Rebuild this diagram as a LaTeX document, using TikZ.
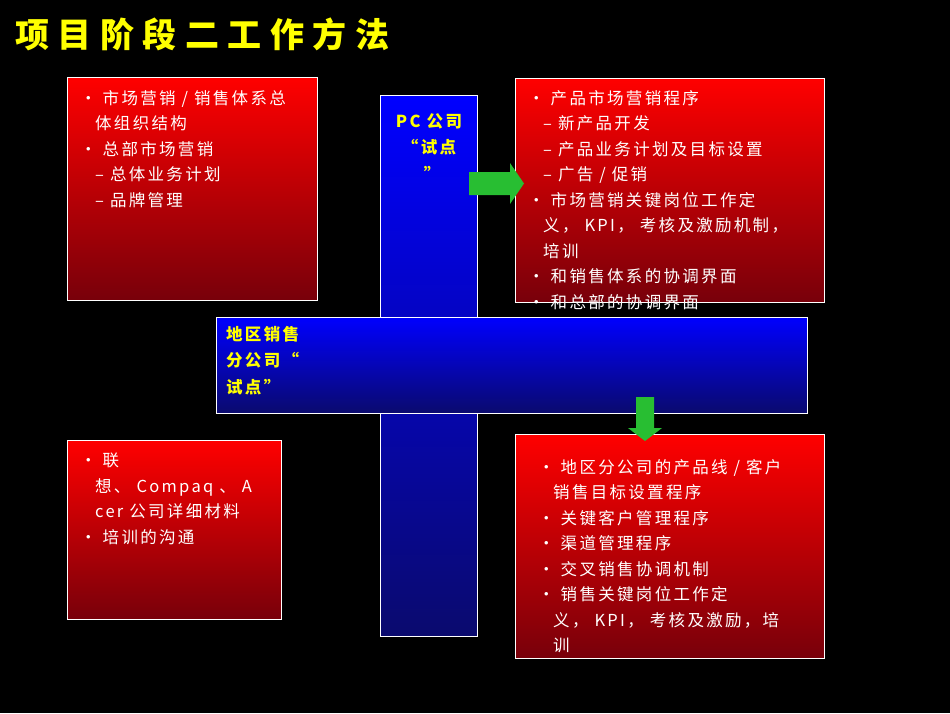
\documentclass[tikz,border=0pt]{standalone}
\usepackage{fontspec}
\setmainfont{Liberation Sans}
\newfontfamily\cjk{Noto Sans CJK SC}[LetterSpace=14]
\newfontfamily\cjkt{Noto Sans CJK SC}[LetterSpace=25]
\definecolor{dred}{RGB}{120,0,10}
\definecolor{dblue}{RGB}{10,10,110}
\definecolor{tyellow}{RGB}{255,255,0}
\definecolor{agreen}{RGB}{40,190,50}
\newcommand\ind{\hspace*{15pt}}
\tikzset{
 redbox/.style={draw=white,line width=0.8pt,top color=red,bottom color=dred},
 bluebar/.style={draw=white,line width=0.8pt,top color=blue,bottom color=dblue},
 txt/.style={text=white,font=\cjk\fontsize{16.5}{25.5}\selectfont,align=left,anchor=north west,inner sep=0pt},
 ytxt/.style={text=tyellow,font=\cjk\bfseries\fontsize{16.5}{26.5}\selectfont,align=left,anchor=north west,inner sep=0pt},
 garrow/.style={fill=agreen},
}
\begin{document}
\begin{tikzpicture}[x=1pt,y=-1pt]
\fill[black] (0,0) rectangle (950,713);
\useasboundingbox (0,0) rectangle (950,713);
\node[anchor=west,text=tyellow,font=\cjkt\bfseries\fontsize{34}{36}\selectfont,inner sep=0pt] (title) at (15,34) {项目阶段二工作方法};
\fill[redbox] (67,77) rectangle (317,300) coordinate (b1);
\fill[redbox] (515,78) rectangle (824,302) coordinate (b2);
\fill[redbox] (67,440) rectangle (281,619) coordinate (b3);
\fill[redbox] (515,434) rectangle (824,658) coordinate (b4);
\fill[bluebar] (380,95) rectangle (477,636);
\node[ytxt,align=center,anchor=north] (pc) at (429,113) {PC 公司\\“试点\\\ ”};
\node[txt] (t1) at (80,90) {• 市场营销 / 销售体系总\\\ind 体组织结构\\• 总部市场营销\\\ind – 总体业务计划\\\ind – 品牌管理};
\node[txt] (t2) at (528,90) {• 产品市场营销程序\\\ind – 新产品开发\\\ind – 产品业务计划及目标设置\\\ind – 广告 / 促销\\• 市场营销关键岗位工作定\\\ind 义， KPI， 考核及激励机制，\\\ind 培训\\• 和销售体系的协调界面\\• 和总部的协调界面};
\fill[bluebar] (216,317) rectangle (807,413);
\node[ytxt] (dq) at (226,326) {地区销售\\分公司“\\试点”};
\node[txt] (t3) at (80,453) {• 联\\\ind 想、 Compaq 、 A\\\ind cer 公司详细材料\\• 培训的沟通};
\node[txt] (t4) at (538,459) {• 地区分公司的产品线 / 客户\\\ind 销售目标设置程序\\• 关键客户管理程序\\• 渠道管理程序\\• 交叉销售协调机制\\• 销售关键岗位工作定\\\ind 义， KPI， 考核及激励，培\\\ind 训};
\fill[garrow] (469,172) -- (510,172) -- (510,163) -- (524,183.5) -- (510,204) -- (510,195) -- (469,195) -- cycle;
\fill[garrow] (636,397) -- (654,397) -- (654,428) -- (662,428) -- (645,441) -- (628,428) -- (636,428) -- cycle;
\end{tikzpicture}
\end{document}
